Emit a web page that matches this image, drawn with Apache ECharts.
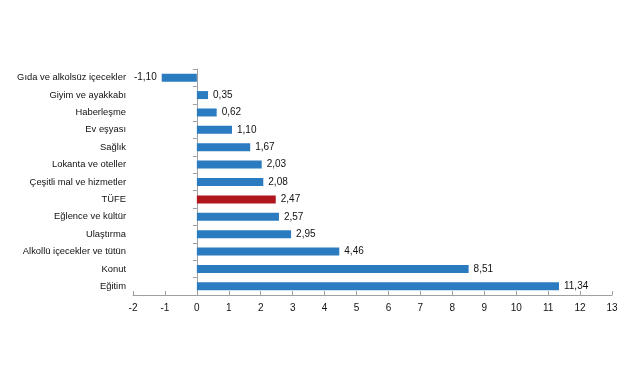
<!DOCTYPE html>
<html><head><meta charset="utf-8">
<script src="https://cdn.jsdelivr.net/npm/echarts@6/dist/echarts.min.js"></script>
<style>html,body{margin:0;padding:0;background:#fff}#c{width:641px;height:380px}</style>
</head><body><div id="c"></div>
<script>
var categories = ["Gıda ve alkolsüz içecekler","Giyim ve ayakkabı","Haberleşme","Ev eşyası","Sağlık","Lokanta ve oteller","Çeşitli mal ve hizmetler","TÜFE","Eğlence ve kültür","Ulaştırma","Alkollü içecekler ve tütün","Konut","Eğitim"];
var values = [-1.10,0.35,0.62,1.10,1.67,2.03,2.08,2.47,2.57,2.95,4.46,8.51,11.34];
var highlight = "TÜFE";
var xTicks = {min:-2, max:13, interval:1};

var blue = '#2a7bc0', red = '#b0171c';
var data = values.map(function(v,i){
  return {
    value: v,
    itemStyle: {color: categories[i] === highlight ? red : blue},
    label: {position: v < 0 ? 'left' : 'right'}
  };
});
var chart = echarts.init(document.getElementById('c'));
chart.setOption({
  animation:false,
  grid:{left:133,right:29,top:69,bottom:85,containLabel:false,outerBoundsMode:'none'},
  xAxis:{type:'value',min:xTicks.min,max:xTicks.max,interval:xTicks.interval,
    axisLine:{show:true,onZero:false,lineStyle:{color:'#a0a0a0'}},
    axisTick:{show:true,inside:true,length:4,lineStyle:{color:'#a0a0a0'}},
    axisLabel:{color:'#111',fontFamily:'Liberation Sans, Arial',fontSize:10,margin:8},
    splitLine:{show:false}},
  yAxis:{type:'category',data:categories,inverse:true,position:'left',
    axisLine:{show:true,onZero:true,lineStyle:{color:'#a0a0a0'}},
    axisTick:{show:true,length:4,lineStyle:{color:'#a0a0a0'}},
    axisLabel:{color:'#111',fontFamily:'Liberation Sans, Arial',fontSize:9.4,margin:7}},
  series:[{type:'bar',data:data,barWidth:8,
    label:{show:true,distance:5,color:'#111',fontFamily:'Liberation Sans, Arial',fontSize:10,
      formatter:function(p){return p.value.toFixed(2).replace('.',',');}}}]
});
</script></body></html>
